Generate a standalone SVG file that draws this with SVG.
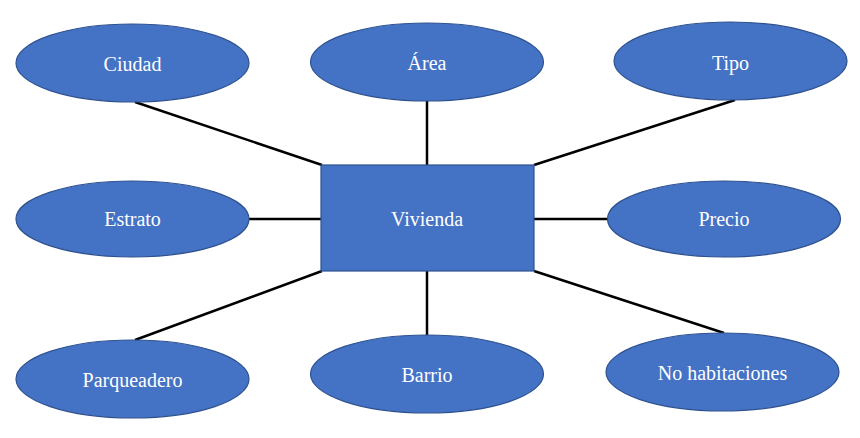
<svg xmlns="http://www.w3.org/2000/svg" width="860" height="438" viewBox="0 0 860 438">
<style>
.n{fill:#4472C4;stroke:#2F528F;stroke-width:1.2}
.t{fill:#fff;font-family:"Liberation Serif","Times New Roman",serif;font-size:20px;text-anchor:middle}
.c line{stroke:#000;stroke-width:2.5}
</style>
<rect width="860" height="438" fill="#fff"/>
<g id="connectors" class="c">
<line x1="135" y1="102" x2="322" y2="165"/>
<line x1="427" y1="101" x2="427" y2="165"/>
<line x1="735" y1="100" x2="534" y2="165"/>
<line x1="249" y1="219" x2="321" y2="219"/>
<line x1="534" y1="219" x2="608" y2="219"/>
<line x1="135" y1="340" x2="322" y2="271"/>
<line x1="427" y1="271" x2="427" y2="335"/>
<line x1="534" y1="271" x2="724" y2="333"/>
</g>
<g id="vivienda"><rect class="n" x="321" y="165" width="213" height="106"/><text class="t" x="427" y="226">Vivienda</text></g>
<g id="ciudad"><ellipse class="n" cx="132.5" cy="63" rx="116.5" ry="39"/><text class="t" x="132.5" y="71">Ciudad</text></g>
<g id="area"><ellipse class="n" cx="427" cy="62" rx="116.5" ry="39"/><text class="t" x="427" y="70">Área</text></g>
<g id="tipo"><ellipse class="n" cx="730.5" cy="61" rx="116.5" ry="39"/><text class="t" x="730.5" y="70">Tipo</text></g>
<g id="estrato"><ellipse class="n" cx="132.5" cy="219" rx="116.5" ry="38"/><text class="t" x="132.5" y="226">Estrato</text></g>
<g id="precio"><ellipse class="n" cx="724" cy="219" rx="116.5" ry="38"/><text class="t" x="724" y="226">Precio</text></g>
<g id="parqueadero"><ellipse class="n" cx="132.5" cy="379" rx="116.5" ry="39"/><text class="t" x="132.5" y="387">Parqueadero</text></g>
<g id="barrio"><ellipse class="n" cx="427" cy="374" rx="116.5" ry="39"/><text class="t" x="427" y="382">Barrio</text></g>
<g id="nohabitaciones"><ellipse class="n" cx="722.5" cy="372" rx="116.5" ry="39"/><text class="t" x="722.5" y="380">No habitaciones</text></g>
</svg>
